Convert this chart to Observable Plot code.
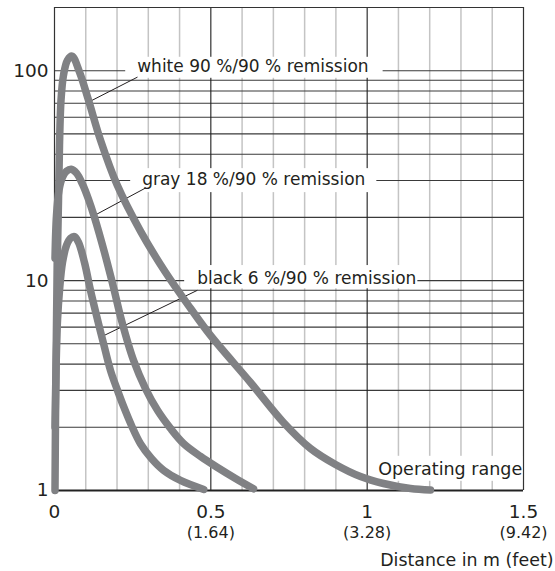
<!DOCTYPE html>
<html>
<head>
<meta charset="utf-8">
<script src="https://cdn.jsdelivr.net/npm/d3@7"></script>
<script src="https://cdn.jsdelivr.net/npm/@observablehq/plot@0.6"></script>
<style>
  html, body { margin: 0; padding: 0; background: #fff; }
</style>
</head>
<body>
<script>
// ---- data (distance in m, value on log scale) ----
const white = [
  [0.0016, 1.0], [0.0032, 2.16], [0.0058, 5.19], [0.009, 12.5], [0.0128, 24.1], [0.016, 44.2],
  [0.0208, 72.4], [0.0288, 95.3], [0.0416, 112.3], [0.056, 117.4], [0.080, 98.5],
  [0.1087, 72.4], [0.1471, 46.7], [0.2005, 28.5], [0.275, 17.2], [0.3549, 10.95],
  [0.435, 7.38], [0.4989, 5.48], [0.6269, 3.27], [0.7324, 2.11], [0.8188, 1.586],
  [0.8987, 1.331], [0.9787, 1.166], [1.0522, 1.08], [1.1386, 1.022], [1.2025, 1.005]
];
const gray = [
  [0.0016, 12.8], [0.0064, 20.5], [0.0144, 26.96], [0.0256, 31.1], [0.0384, 33.2],
  [0.0534, 33.95], [0.0704, 32.5], [0.0896, 28.8], [0.1087, 24.4], [0.1279, 20.0],
  [0.1599, 13.6], [0.1887, 9.29], [0.2143, 6.47], [0.2527, 4.17], [0.291, 3.06],
  [0.3294, 2.41], [0.371, 1.976], [0.4126, 1.675], [0.467, 1.453], [0.5213, 1.287],
  [0.5789, 1.141], [0.6365, 1.019]
];
const black = [
  [0.0016, 2.0], [0.0048, 3.73], [0.0096, 6.47], [0.016, 8.99], [0.0256, 12.2],
  [0.0384, 14.7], [0.0512, 15.9], [0.064, 16.2], [0.0768, 15.2], [0.0959, 12.2],
  [0.1151, 8.99], [0.1366, 6.61], [0.1567, 5.02], [0.1791, 3.73], [0.2015, 3.0],
  [0.2216, 2.5], [0.2463, 2.04], [0.275, 1.67], [0.3102, 1.42], [0.3496, 1.245],
  [0.403, 1.116], [0.4775, 1.011]
];

const xGridMinor = [0.1, 0.2, 0.3, 0.4, 0.6, 0.7, 0.8, 0.9, 1.1, 1.2, 1.3, 1.4];
const xGridMajor = [0.5, 1];
const yGrid = [2, 3, 4, 5, 6, 7, 8, 9, 10, 20, 30, 40, 50, 60, 70, 80, 90, 100];
const frameX = [0, 1.5];
const frameTop = [200];
const frameBottom = [1];

const yTicks = [1, 10, 100];
const yTickLabels = ["1", "10", "100"];
const xTicks = [0, 0.5, 1, 1.5];
const xTickLabels = ["0", "0.5", "1", "1.5"];
const feetLabels = ["", "(1.64)", "(3.28)", "(9.42)"];

const curveLabels = ["white 90 %/90 % remission", "gray 18 %/90 % remission", "black 6 %/90 % remission"];
const curveLabelX = [0.2645, 0.2804, 0.4563];
const curveLabelY = [98.8, 28.5, 9.68];
const leaderX1 = [0.2655, 0.291, 0.457];
const leaderY1 = [93.2, 27.6, 8.99];
const leaderX2 = [0.1087, 0.1295, 0.160];
const leaderY2 = [70.8, 20.5, 5.49];

const rangeLabel = ["Operating range"];
const rangeLabelX = [1.4958];
const rangeLabelY = [1.188];
const axisTitle = ["Distance in m (feet)"];

// ---- styles ----
const curveColor = "#808184";
const textColor = "#231f20";
// box paddings [left, right, top, bottom] for boxed labels
const boxedTextList = [...curveLabels, ...rangeLabel];
const boxPads = [[12, 14, -1, 2], [12, 11, 1, 3], [13, 1, 2.5, 0.7], [7, 0, 3, 2]];

const idx3 = [0, 1, 2];

const lineOpts = {x: d => d[0], y: d => d[1], stroke: curveColor, strokeWidth: 7.5, curve: "catmull-rom", strokeLinecap: "round", strokeLinejoin: "round"};

const chart = Plot.plot({
  width: 555,
  height: 571,
  marginLeft: 54,
  marginRight: 32,
  marginTop: 7,
  marginBottom: 81,
  x: {domain: [0, 1.5], axis: null},
  y: {type: "log", domain: [1, 200], axis: null},
  style: {fontFamily: "DejaVu Sans", background: "white", color: textColor},
  marks: [
    Plot.ruleX(xGridMinor, {stroke: "#c4c4c4", strokeWidth: 1.5}),
    Plot.ruleY(yGrid, {stroke: "#3a3a3a", strokeWidth: 1.1}),
    Plot.ruleX(xGridMajor, {stroke: "#1e1e1e", strokeWidth: 1.1}),
    Plot.ruleX(frameX, {stroke: "#333", strokeWidth: 1.2}),
    Plot.ruleY(frameTop, {stroke: "#333", strokeWidth: 1.2}),
    Plot.ruleY(frameBottom, {stroke: "#222", strokeWidth: 2}),
    Plot.text(idx3, {
      x: i => curveLabelX[i], y: i => curveLabelY[i], text: i => curveLabels[i],
      textAnchor: "start", lineAnchor: "bottom", fontSize: 17, fill: textColor
    }),
    Plot.text(rangeLabel, {
      x: (d, i) => rangeLabelX[i], y: (d, i) => rangeLabelY[i], text: d => d,
      textAnchor: "end", lineAnchor: "bottom", fontSize: 17.5, fill: textColor
    }),
    Plot.link(idx3, {
      x1: i => leaderX1[i], y1: i => leaderY1[i], x2: i => leaderX2[i], y2: i => leaderY2[i],
      stroke: textColor, strokeWidth: 1
    }),
    Plot.line(white, lineOpts),
    Plot.line(gray, lineOpts),
    Plot.line(black, lineOpts),
    // y tick labels
    Plot.text(yTicks, {x: 0, y: d => d, text: (d, i) => yTickLabels[i], textAnchor: "end", dx: -6, fontSize: 18.5, fill: textColor}),
    // x tick labels
    Plot.text(xTicks, {x: d => d, y: 1, text: (d, i) => xTickLabels[i], dy: 22, fontSize: 18.5, fill: textColor}),
    Plot.text(xTicks, {x: d => d, y: 1, text: (d, i) => feetLabels[i], dy: 42, fontSize: 16, fill: textColor}),
    // axis title
    Plot.text(axisTitle, {x: 1.5, y: 1, text: d => d, textAnchor: "end", lineAnchor: "bottom", dx: 30, dy: 75, fontSize: 17.4, fill: textColor})
  ]
});

document.body.append(chart);

// white boxes behind boxed labels (covering grid lines)
chart.querySelectorAll("text").forEach((t) => {
  const k = boxedTextList.indexOf(t.textContent);
  if (k < 0) return;
  const b = t.getBBox();
  const p = boxPads[k];
  const r = document.createElementNS("http://www.w3.org/2000/svg", "rect");
  r.setAttribute("x", b.x - p[0]);
  r.setAttribute("y", b.y - p[2]);
  r.setAttribute("width", b.width + p[0] + p[1]);
  r.setAttribute("height", b.height + p[2] + p[3]);
  r.setAttribute("fill", "white");
  r.setAttribute("stroke", "none");
  const tr = t.getAttribute("transform");
  if (tr) r.setAttribute("transform", tr);
  t.parentNode.insertBefore(r, t);
});
</script>
</body>
</html>
